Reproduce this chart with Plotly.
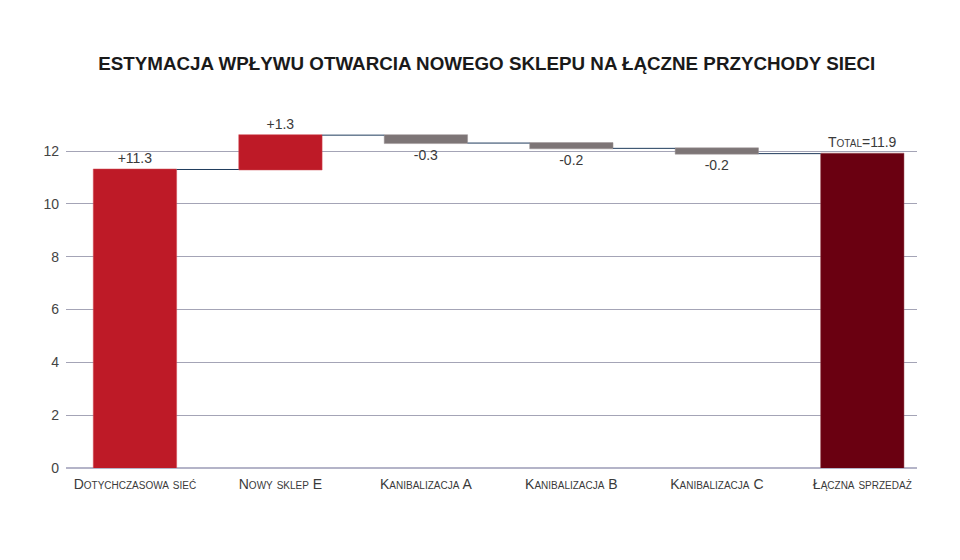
import plotly.graph_objects as go

categories = ["Dotychczasowa sieć", "Nowy sklep E", "Kanibalizacja A",
              "Kanibalizacja B", "Kanibalizacja C", "Łączna sprzedaż"]
values = [11.3, 1.3, -0.3, -0.2, -0.2, 0]
measures = ["relative", "relative", "relative", "relative", "relative", "total"]
total_value = 11.9
labels = ["+11.3", "+1.3", "-0.3", "-0.2", "-0.2", "Total=" + str(total_value)]

fig = go.Figure(go.Waterfall(
    x=categories,
    y=values,
    measure=measures,
    text=labels,
    textposition="outside",
    textfont=dict(family="Liberation Sans, Arial, sans-serif", size=14, color="#3a3a3a", variant="small-caps"),
    increasing=dict(marker=dict(color="#be1a27", line=dict(color="#d04a55", width=0.5))),
    decreasing=dict(marker=dict(color="#7d7576", line=dict(color="#9a9394", width=0.5))),
    totals=dict(marker=dict(color="#6a0011", line=dict(color="#9a4a55", width=0.5))),
    connector=dict(line=dict(color="#1f3b5c", width=1), mode="between"),
    cliponaxis=False,
    hoverinfo="skip",
))

fig.update_layout(
    width=960, height=560,
    margin=dict(l=66, r=43, t=111, b=92),
    paper_bgcolor="white", plot_bgcolor="white",
    font=dict(family="Liberation Sans, Arial, sans-serif", size=14, color="#444444"),
    title=dict(
        text="<b>ESTYMACJA WPŁYWU OTWARCIA NOWEGO SKLEPU NA ŁĄCZNE PRZYCHODY SIECI</b>",
        x=0.507, xanchor="center", y=0.887, yanchor="middle",
        font=dict(size=18.8, color="#1a1a1a", family="Liberation Sans, Arial, sans-serif"),
    ),
    showlegend=False,
    waterfallgap=0.427,
    xaxis=dict(
        range=[-0.474, 5.376], autorange=False,
        showgrid=False, showline=False, zeroline=False,
        tickfont=dict(size=14, color="#3a3a3a", variant="small-caps"),
        ticks="", ticklabelstandoff=6,
    ),
    yaxis=dict(
        range=[0, 13.514],
        tickmode="linear", tick0=0, dtick=2,
        showgrid=True, gridcolor="#a4a4b6", gridwidth=1,
        zeroline=True, zerolinecolor="#b4b4c8", zerolinewidth=2,
        showline=False, ticks="", ticklabelstandoff=6,
        tickfont=dict(size=14, color="#444444"),
    ),
)

fig.write_html("out.html")
